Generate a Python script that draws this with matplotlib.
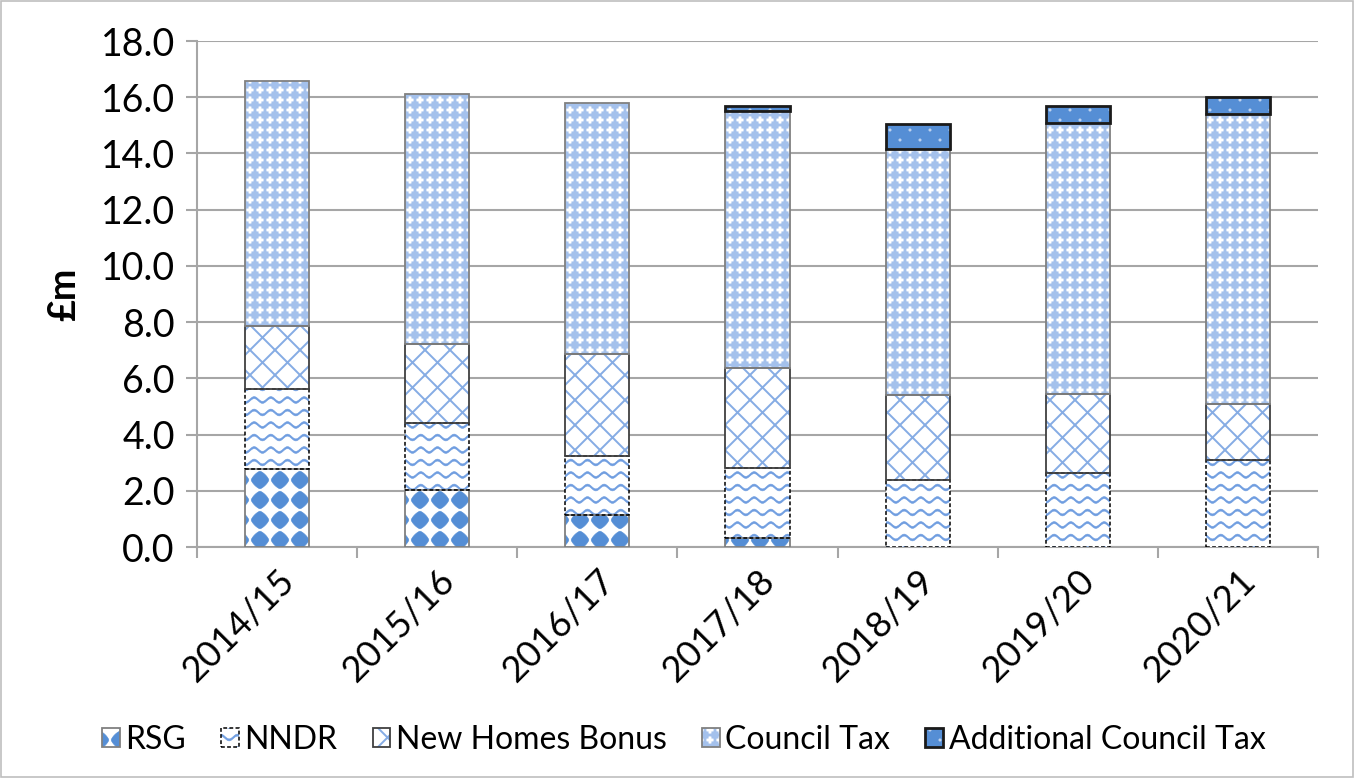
import numpy as np
import matplotlib
matplotlib.use("Agg")
import matplotlib.pyplot as plt
import matplotlib.hatch as mhatch
from matplotlib.path import Path
from matplotlib.patches import Patch, Rectangle
from matplotlib.legend_handler import HandlerTuple

# ---------------- data ----------------
years = ["2014/15", "2015/16", "2016/17", "2017/18", "2018/19", "2019/20", "2020/21"]
rsg = [2.79, 2.02, 1.13, 0.33, 0.0, 0.0, 0.0]
nndr = [2.84, 2.39, 2.11, 2.49, 2.38, 2.64, 3.09]
new_homes_bonus = [2.22, 2.80, 3.62, 3.56, 3.03, 2.80, 1.99]
council_tax = [8.73, 8.89, 8.94, 9.12, 8.75, 9.66, 10.32]
additional_council_tax = [0.0, 0.0, 0.0, 0.20, 0.89, 0.59, 0.62]
series_labels = ["RSG", "NNDR", "New Homes Bonus", "Council Tax", "Additional Council Tax"]
y_ticks = [0, 2, 4, 6, 8, 10, 12, 14, 16, 18]

# ---------------- custom hatch patterns ----------------
def _closed(poly):
    v = np.vstack([poly, poly[:1]])
    c = np.full(len(v), Path.LINETO, dtype=Path.code_type)
    c[0] = Path.MOVETO
    c[-1] = Path.CLOSEPOLY
    return v, c

def _combine(parts):
    v = np.vstack([p[0] for p in parts])
    c = np.concatenate([p[1] for p in parts])
    return v, c

def _rounded_diamond(cx, cy, r, p=1.35, n=40):
    t = np.linspace(0, 2 * np.pi, n, endpoint=False)
    x = r * np.sign(np.cos(t)) * np.abs(np.cos(t)) ** (2 / p)
    y = r * np.sign(np.sin(t)) * np.abs(np.sin(t)) ** (2 / p)
    return _closed(np.column_stack([x + cx, y + cy]))

def _rsg_pattern():
    n = 5
    parts = []
    for i in range(n + 1):
        for j in range(n + 1):
            parts.append(_rounded_diamond(i / n, j / n, 0.088))
    return _combine(parts)

def _wave_pattern():
    rows, waves, amp, h = 8, 6, 0.024, 0.010
    x = np.linspace(0, 1, 121)
    parts = []
    for j in range(rows + 1):
        y0 = j / rows
        yc = y0 + amp * np.sin(2 * np.pi * waves * x)
        upper = np.column_stack([x, yc + h])
        lower = np.column_stack([x[::-1], (yc - h)[::-1]])
        parts.append(_closed(np.vstack([upper, lower])))
    return _combine(parts)

def _band(p0, p1, h):
    p0, p1 = np.asarray(p0, float), np.asarray(p1, float)
    d = p1 - p0
    nrm = np.array([-d[1], d[0]]) / np.hypot(*d) * h
    return _closed(np.array([p0 + nrm, p1 + nrm, p1 - nrm, p0 - nrm]))

def _lattice_pattern():
    n = 4
    h = 0.007
    parts = []
    for k in range(-n - 1, n + 2):
        c = k / n
        parts.append(_band((-0.1, c - 0.1), (1.1, 1.1 + c), h))
        parts.append(_band((-0.1, 1.1 - c), (1.1, -0.1 - c), h))
    return _combine(parts)

def _plus(cx, cy, a, w):
    pts = [(-w, -a), (w, -a), (w, -w), (a, -w), (a, w), (w, w), (w, a),
           (-w, a), (-w, w), (-a, w), (-a, -w), (-w, -w)]
    return _closed(np.array(pts) + [cx, cy])

def _ct_pattern():
    n = 10
    parts = []
    for i in range(n + 1):
        for j in range(n + 1):
            parts.append(_plus(i / n, j / n, 0.032, 0.011))
    return _combine(parts)

def _dot(cx, cy, r, n=16):
    t = np.linspace(0, 2 * np.pi, n, endpoint=False)
    return _closed(np.column_stack([cx + r * np.cos(t), cy + r * np.sin(t)]))

def _act_pattern():
    parts = []
    rows = 10
    for j in range(rows + 1):
        off = 0.1 if j % 2 else 0.0
        for i in range(-1, 7):
            parts.append(_dot(i / 5 + off, j / rows, 0.012))
    return _combine(parts)

class _CustomHatch(mhatch.HatchPatternBase):
    registry = {}

    def __init__(self, hatch, density):
        self.parts = [self.registry[ch] for ch in (hatch or "") if ch in self.registry]
        self.num_vertices = sum(len(v) for v, _ in self.parts)

    def set_vertices_and_codes(self, vertices, codes):
        i = 0
        for v, c in self.parts:
            vertices[i:i + len(v)] = v
            codes[i:i + len(v)] = c
            i += len(v)

_CustomHatch.registry = {
    "*": _rsg_pattern(),
    "-": _wave_pattern(),
    "x": _lattice_pattern(),
    "o": _ct_pattern(),
    ".": _act_pattern(),
}
mhatch._hatch_types[:] = [_CustomHatch]

# ---------------- style ----------------
plt.rcParams["font.family"] = ["Lato", "DejaVu Sans"]
plt.rcParams["hatch.linewidth"] = 0.4

BLUE = "#558ed5"
styles = [
    dict(face="white", hc=BLUE, hatch="*", ec="#808080", lw=1.3, ls="-"),
    dict(face="white", hc="#6f9de0", hatch="-", ec="#000000", lw=1.1, ls=(0, (2.5, 1.5))),
    dict(face="white", hc="#86ace4", hatch="x", ec="#404040", lw=1.3, ls="-"),
    dict(face="#a4c1ec", hc="white", hatch="o", ec="#808080", lw=1.3, ls="-"),
    dict(face=BLUE, hc="#c3d5f0", hatch=".", ec="#1a1a1a", lw=2.0, ls="-"),
]
series = [rsg, nndr, new_homes_bonus, council_tax, additional_council_tax]

fig = plt.figure(figsize=(13.54, 7.78), dpi=100)
ax = fig.add_axes([197 / 1354, 1 - 547 / 778, (1318 - 197) / 1354, (547 - 41) / 778])

x = np.arange(len(years))
width = 0.4
bottom = np.zeros(len(years))
handles = []
for vals, st, lab in zip(series, styles, series_labels):
    vals = np.asarray(vals, float)
    lws = np.where(vals > 0, st["lw"], 0.0)
    ax.bar(x, vals, width, bottom=bottom, color=st["face"], edgecolor=st["hc"],
           linewidth=0, hatch=st["hatch"], zorder=3)
    ax.bar(x, vals, width, bottom=bottom, fill=False, edgecolor=st["ec"],
           linewidth=lws, linestyle=st["ls"], zorder=4)
    bottom += vals
    h1 = Patch(facecolor=st["face"], edgecolor=st["hc"], linewidth=0, hatch=st["hatch"])
    h2 = Patch(fill=False, edgecolor=st["ec"], linewidth=st["lw"], linestyle=st["ls"])
    handles.append((h1, h2))

ax.set_ylim(0, 18)
ax.set_xlim(-0.5, len(years) - 0.5)
ax.set_yticks(y_ticks)
ax.set_yticklabels([f"{v:.1f}" for v in y_ticks])
ax.yaxis.grid(True, color="#a6a6a6", linewidth=1.5, zorder=0)
ax.set_axisbelow(True)

ax.set_xticks(x)
ax.set_xticklabels(years, rotation=45, ha="right", va="top", rotation_mode="anchor")
ax.set_xticks(np.arange(len(years) + 1) - 0.5, minor=True)
ax.tick_params(axis="x", which="major", length=0, pad=12, labelsize=26)
ax.tick_params(axis="x", which="minor", length=8, width=1.5, color="#a6a6a6")
ax.tick_params(axis="y", length=8, width=1.5, color="#a6a6a6", pad=8, labelsize=27)

for s in ["top", "right"]:
    ax.spines[s].set_visible(False)
for s in ["left", "bottom"]:
    ax.spines[s].set_color("#a6a6a6")
    ax.spines[s].set_linewidth(1.5)

ax.set_ylabel("£m", fontsize=27, fontweight="bold", labelpad=14)

fig.legend(handles, series_labels, loc="center", bbox_to_anchor=(0.505, 0.049),
           ncol=5, frameon=False, fontsize=23, handlelength=0.55, handleheight=0.55,
           handletextpad=0.18, columnspacing=1.1,
           handler_map={tuple: HandlerTuple(ndivide=1)})

fig.patches.append(Rectangle((0.001, 0.001), 0.998, 0.998, transform=fig.transFigure,
                             fill=False, edgecolor="#bfbfbf", linewidth=1.2))

fig.savefig("out.png", dpi=100)
